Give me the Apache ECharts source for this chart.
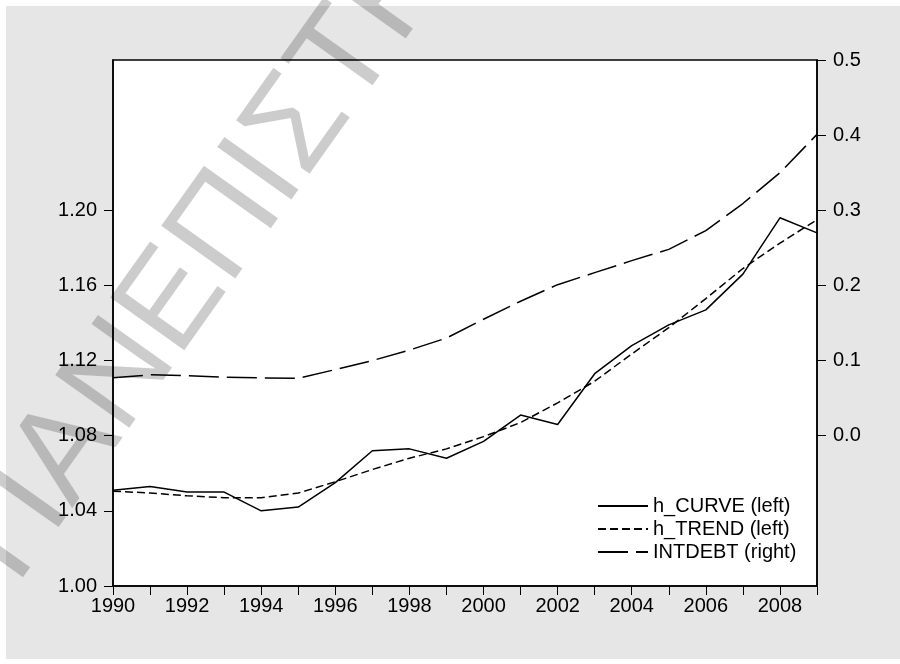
<!DOCTYPE html>
<html>
<head>
<meta charset="utf-8">
<script src="https://cdn.jsdelivr.net/npm/echarts@6/dist/echarts.min.js"></script>
<style>
  html, body { margin: 0; padding: 0; background: #fff; }
  #chart { width: 900px; height: 664px; }
</style>
</head>
<body>
<div id="chart"></div>
<script>
// data
var years = ['1990','1991','1992','1993','1994','1995','1996','1997','1998','1999',
             '2000','2001','2002','2003','2004','2005','2006','2007','2008','2009'];
var hCurve = [1.051, 1.053, 1.050, 1.050, 1.040, 1.042, 1.055, 1.072, 1.073, 1.068,
              1.077, 1.091, 1.086, 1.113, 1.128, 1.139, 1.147, 1.166, 1.196, 1.188];
var hTrend = [1.0505, 1.0495, 1.048, 1.047, 1.047, 1.0495, 1.0555, 1.062, 1.068, 1.073,
              1.0795, 1.087, 1.0975, 1.109, 1.1235, 1.1375, 1.153, 1.169, 1.1825, 1.195];
var intDebt = [0.077, 0.081, 0.080, 0.078, 0.077, 0.0765, 0.088, 0.100, 0.114, 0.130,
               0.155, 0.179, 0.201, 0.217, 0.233, 0.248, 0.273, 0.309, 0.350, 0.401];
var leftTicks = [1.00, 1.04, 1.08, 1.12, 1.16, 1.20];
var rightTicks = [0.0, 0.1, 0.2, 0.3, 0.4, 0.5];
var watermark = 'ΠΑΝΕΠΙΣΤΗΜΙΟ ΠΕΙΡΑΙΩΣ';

var font = '"Liberation Sans", Arial, sans-serif';

var chart = echarts.init(document.getElementById('chart'));
var option = {
  backgroundColor: '#fff',
  animation: false,
  textStyle: { fontFamily: font },
  graphic: [
    {
      type: 'rect', z: -10, silent: true,
      shape: { x: 6, y: 6, width: 894, height: 653 },
      style: { fill: '#e6e6e6' }
    },
    {
      // faint diagonal watermark
      type: 'text', z: 100, silent: true,
      x: -13, y: 565, rotation: 0.953,
      style: {
        text: watermark,
        font: '132px "Liberation Sans", Arial, sans-serif',
        fill: 'rgba(0,0,0,0.2)',
        align: 'left',
        verticalAlign: 'middle'
      }
    }
  ],
  grid: {
    left: 113, right: 83, top: 60, bottom: 78,
    show: true, backgroundColor: '#fff',
    borderColor: '#000', borderWidth: 1.5
  },
  legend: {
    orient: 'vertical',
    left: 597, top: 496,
    itemWidth: 50, itemHeight: 12, itemGap: 3,
    padding: 0,
    itemStyle: { opacity: 0 },
    textStyle: { fontSize: 20, color: '#000', fontFamily: font, lineHeight: 20 },
    data: ['h_CURVE (left)', 'h_TREND (left)', 'INTDEBT (right)']
  },
  xAxis: {
    type: 'category',
    data: years,
    boundaryGap: false,
    axisLine: { onZero: false, lineStyle: { color: '#000', width: 1.5 } },
    axisTick: { show: true, interval: 0, length: 9, lineStyle: { color: '#000' } },
    axisLabel: { interval: 1, fontSize: 20, color: '#000', margin: 10, fontFamily: font },
    splitLine: { show: false }
  },
  yAxis: [
    {
      type: 'value',
      position: 'left',
      min: 1.00, max: 1.28,
      axisLine: { show: true, lineStyle: { color: '#000', width: 1.5 } },
      axisTick: { show: true, length: 9, customValues: leftTicks, lineStyle: { color: '#000' } },
      axisLabel: {
        customValues: leftTicks,
        fontSize: 20, color: '#000', margin: 16, fontFamily: font,
        formatter: function (v) { return v.toFixed(2); }
      },
      splitLine: { show: false }
    },
    {
      type: 'value',
      position: 'right',
      min: -0.2, max: 0.5,
      axisLine: { show: true, lineStyle: { color: '#000', width: 1.5 } },
      axisTick: { show: true, length: 9, customValues: rightTicks, lineStyle: { color: '#000' } },
      axisLabel: {
        customValues: rightTicks,
        fontSize: 20, color: '#000', margin: 16, fontFamily: font,
        formatter: function (v) { return v.toFixed(1); }
      },
      splitLine: { show: false }
    }
  ],
  series: [
    {
      name: 'h_CURVE (left)',
      type: 'line',
      yAxisIndex: 0,
      symbol: 'none',
      data: hCurve,
      lineStyle: { color: '#000', width: 1.5, type: 'solid' },
      itemStyle: { color: '#000' }
    },
    {
      name: 'h_TREND (left)',
      type: 'line',
      yAxisIndex: 0,
      symbol: 'none',
      data: hTrend,
      lineStyle: { color: '#000', width: 1.5, type: [8, 4] },
      itemStyle: { color: '#000' }
    },
    {
      name: 'INTDEBT (right)',
      type: 'line',
      yAxisIndex: 1,
      symbol: 'none',
      data: intDebt,
      lineStyle: { color: '#000', width: 1.5, type: [30, 8] },
      itemStyle: { color: '#000' }
    }
  ]
};
chart.setOption(option);
</script>
</body>
</html>
